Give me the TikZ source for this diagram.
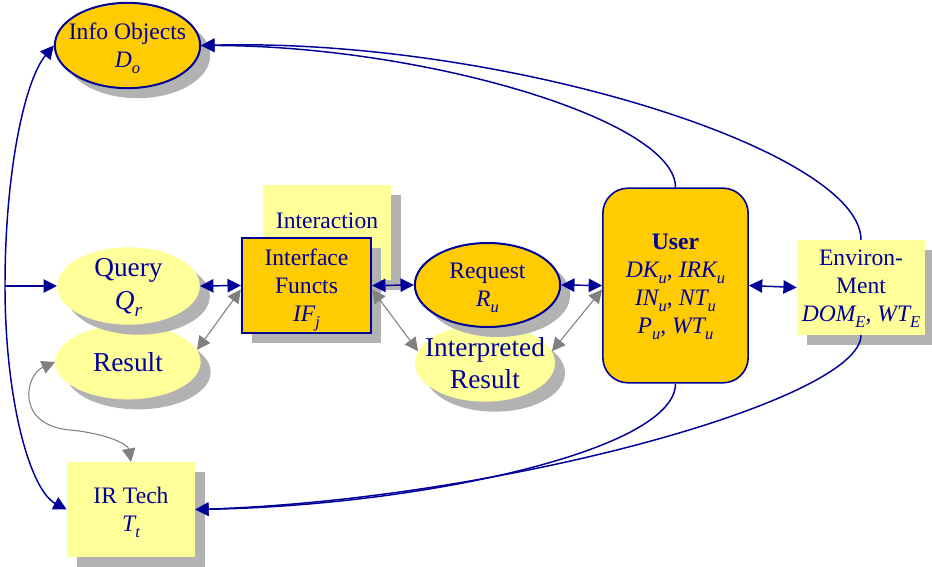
\documentclass[tikz,border=0pt]{standalone}
\usepackage{fontspec}
\usepackage{graphicx}
\setmainfont{Liberation Serif}
\usetikzlibrary{shapes.geometric,shadows,arrows.meta}
\definecolor{navy}{HTML}{000099}
\definecolor{gold}{HTML}{FFCC00}
\definecolor{paleyellow}{HTML}{FFFF99}
\definecolor{shadowgray}{HTML}{B2B2B2}
\definecolor{linkgray}{HTML}{808080}
% italic symbol with lowered subscript
\newcommand{\subvar}[2]{\textit{#1\raisebox{-0.25em}[0pt][0pt]{\scalebox{0.7}{#2}}}}
\begin{document}
\begin{tikzpicture}[x=0.75pt,y=-0.75pt,
    every node/.style={text=navy, align=center, inner sep=0pt,
      font=\fontsize{17.7}{21}\selectfont},
    bigtext/.style={font=\fontsize{20.5}{24.5}\selectfont},
    boxshadow/.style={general shadow={fill=shadowgray, shadow xshift=7.5pt, shadow yshift=-7.5pt}},
    oval/.style={ellipse, boxshadow, inner xsep=-20pt, inner ysep=-6pt},
    goldoval/.style={oval, fill=gold, draw=navy, line width=1.5pt},
    paleoval/.style={oval, fill=paleyellow},
    palebox/.style={rectangle, boxshadow, fill=paleyellow, minimum width=96pt, minimum height=71pt},
    goldbox/.style={rectangle, boxshadow, fill=gold, draw=navy, line width=1.5pt},
    >={Triangle[length=10pt,width=10pt]},
    bluelink/.style={navy, line width=1.1pt},
    graylink/.style={linkgray, line width=0.8pt}]
  \useasboundingbox (0,0) rectangle (932,567);

  % nodes
  \node[goldoval, minimum width=109pt, minimum height=64pt] (info) at (127.5,45.5) {Info Objects\\\subvar{D}{o}};
  \node[paleoval, bigtext, minimum width=109pt, minimum height=56pt] (result) at (128,362) {Result};
  \node[paleoval, bigtext, minimum width=107pt, minimum height=58pt] (query) at (128.5,286) {Query\\\subvar{Q}{r}};
  \node[palebox, label={[label distance=-33pt]north:Interaction}] (inter) at (327,232.5) {};
  \node[goldbox, minimum width=97pt, minimum height=71pt] (ifun) at (306.5,285.5) {Interface\\Functs\\\subvar{IF}{j}};
  \node[paleoval, bigtext, minimum width=105pt, minimum height=58pt] (interp) at (485,363) {Interpreted\\Result};
  \node[goldoval, minimum width=109pt, minimum height=63pt] (req) at (487.5,285) {Request\\\subvar{R}{u}};
  \node[rectangle, rounded corners=19pt, fill=gold, draw=navy, line width=1.2pt,
    minimum width=109pt, minimum height=146pt] (user) at (675.5,285.5)
    {\textbf{User}\\\subvar{DK}{u}, \subvar{IRK}{u}\\\subvar{IN}{u}, \subvar{NT}{u}\\\subvar{P}{u}, \subvar{WT}{u}};
  \node[palebox] (env) at (861,287.5) {Environ-\\Ment\\\subvar{DOM}{E}, \subvar{WT}{E}};
  \node[palebox] (ir) at (131,509.5) {IR Tech\\\subvar{T}{t}};

  % blue links
  \coordinate (bend) at (5,286);
  \draw[bluelink, <->] (ir.west) .. controls (30,490) and (5,400) .. (bend)
    .. controls (5,170) and (25,80) .. (info.west);
  \draw[bluelink, ->] (bend) -- (query.west);
  \draw[bluelink, <->] (query.east) -- (ifun.west);
  \draw[bluelink, <->] (ifun.east) -- (req.west);
  \draw[bluelink, <->] (req.east) -- (user.west);
  \draw[bluelink, <->] (user.east) -- (env.west);
  \draw[bluelink, ->] (user.north) .. controls +(0,-68) and +(220,0) .. (info.east);
  \draw[bluelink, ->] (env.north) .. controls +(0,-90) and +(300,-8) .. (info.east);
  \draw[bluelink, ->] (user.south) .. controls +(0,67) and +(225,-4) .. (ir.east);
  \draw[bluelink, ->] (env.south) .. controls +(0,65) and +(305,-10) .. (ir.east);

  % grey links
  \draw[graylink, <->] (result.10) -- ([yshift=-3pt]ifun.west);
  \draw[graylink, <->] ([yshift=-3pt]ifun.east) -- (interp.170);
  \draw[graylink, <->] ([yshift=-3pt]user.west) -- (interp.10);
  \draw[graylink, <->] (result.west) .. controls (25,375) and (15,425) .. (70,430)
    .. controls (110,434) and (128,445) .. (ir.north);
\end{tikzpicture}
\end{document}
